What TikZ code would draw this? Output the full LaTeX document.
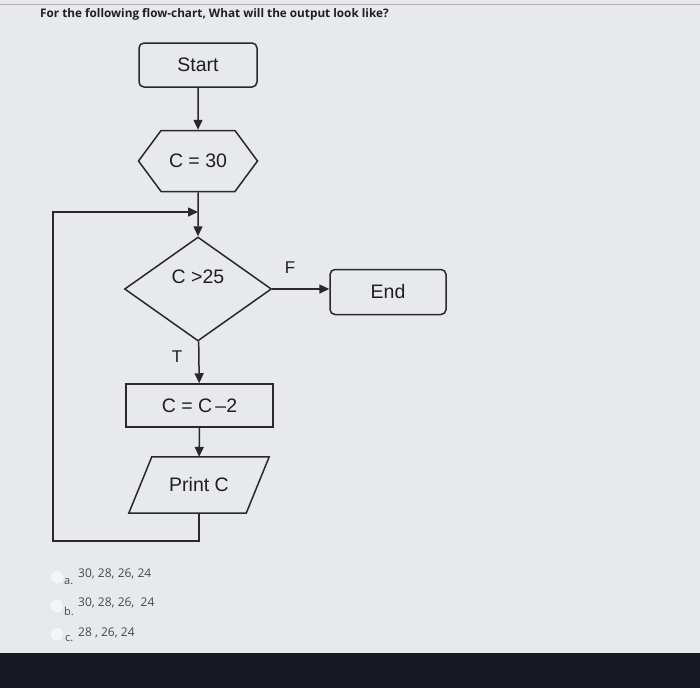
\documentclass[tikz,border=0pt]{standalone}
\usepackage{fontspec}
\setmainfont{Liberation Sans}
\newfontfamily\osans{Open Sans}
\usetikzlibrary{shapes.geometric,shapes.symbols,arrows.meta}
\definecolor{bg}{RGB}{231,233,236}
\definecolor{linec}{RGB}{40,40,45}
\definecolor{txt}{RGB}{30,30,35}
\definecolor{opt}{RGB}{70,70,78}
\definecolor{bar}{RGB}{22,25,35}
\begin{document}
\begin{tikzpicture}[x=1pt,y=-1pt,
  line/.style={draw=linec,line width=1.5pt},
  arr/.style={line,-{Triangle[length=10pt,width=9pt]}},
  lbl/.style={font=\fontsize{19.5}{22}\selectfont,text=txt,inner sep=0},
  term/.style={lbl,draw=linec,line width=1.5pt,rounded corners=5pt,minimum width=118pt,minimum height=44pt},
  procbox/.style={lbl,draw=linec,line width=1.5pt,minimum width=147pt,minimum height=43pt},
  radio/.style={circle,draw=gray!25,fill=white!55!bg,minimum size=14pt,inner sep=0},
  optnum/.style={font=\osans\fontsize{12}{14}\selectfont,text=opt,anchor=west,inner sep=0},
  optlet/.style={font=\osans\fontsize{11}{13}\selectfont,text=opt,anchor=west,inner sep=0}
]
\fill[bg] (0,0) rectangle (700,688);
\useasboundingbox (0,0) rectangle (700,688);
\draw[gray!60,line width=0.8pt] (0,4) -- (700,4);
\fill[bar] (0,653) rectangle (700,688);

\node[anchor=west,inner sep=0,font=\osans\bfseries\fontsize{11.75}{14}\selectfont,text=txt] (title) at (40,14) {For the following flow-chart, What will the output look like?};

\node[term] (start) at (198,65) {Start};
\node[lbl,draw=linec,line width=1.5pt,signal,signal to=east and west,signal pointer angle=107,minimum width=119pt,minimum height=61pt] (hex) at (198,161) {C = 30};
\node[draw=linec,line width=1.5pt,diamond,minimum width=147pt,minimum height=104pt,inner sep=0] (dec) at (198,289) {};
\node[lbl] (dectext) at (198,277) {C >25};
\node[term,minimum width=116pt,minimum height=45pt] (end) at (388,292) {End};
\node[procbox] (upd) at (199.5,405.5) {C = C\,\textendash 2};
\node[lbl,minimum width=117pt,minimum height=56pt] (print) at (199,485) {Print C};
\draw[line] ([xshift=11.5pt]print.north west) -- ([xshift=11.5pt]print.north east) -- ([xshift=-11.5pt]print.south east) -- ([xshift=-11.5pt]print.south west) -- cycle;

\node[font=\fontsize{17}{19}\selectfont,text=txt,inner sep=0] (F) at (290,268) {F};
\node[font=\fontsize{17}{19}\selectfont,text=txt,inner sep=0] (T) at (177,357) {T};

\coordinate (join) at (198,212);
\coordinate (lp) at (53,541);

\draw[arr] (start) -- (hex);
\draw[arr] (hex) -- (dec);
\draw[arr] (dec.east) -- (dec.east -| end.west);
\draw[arr] (dec) -- (upd);
\draw[arr] (upd) -- (print);
\draw[arr] (print.south) |- (lp) |- (join);

\node[radio] (r1) at (57,577) {};
\node[radio] (r2) at (57,606) {};
\node[radio] (r3) at (57,634) {};
\node[optlet] (la) at (64,582) {a.};
\node[optlet] (lb) at (64,611) {b.};
\node[optlet] (lc) at (65,639) {c.};
\node[optnum] (oa) at (78,574) {30, 28, 26, 24};
\node[optnum] (ob) at (78,603) {30, 28, 26,\ \ 24};
\node[optnum] (oc) at (78,633) {28 , 26, 24};
\end{tikzpicture}
\end{document}
